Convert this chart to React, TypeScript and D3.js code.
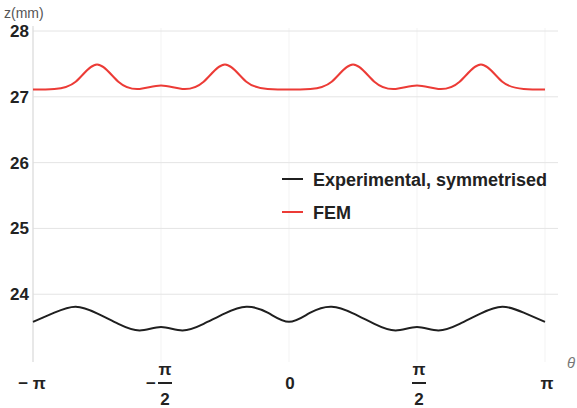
import React from "react";
import * as d3 from "d3";

// theta sampled in steps of pi/12, from -pi to pi
const thetaSteps = [-12, -11, -10, -9, -8, -7, -6, -5, -4, -3, -2, -1, 0, 1, 2, 3, 4, 5, 6, 7, 8, 9, 10, 11, 12];

// FEM (red) z in mm
const femZ = [
  27.11, 27.12, 27.23, 27.49, 27.23, 27.12, 27.17, 27.12, 27.23, 27.49, 27.23, 27.12,
  27.11,
  27.12, 27.23, 27.49, 27.23, 27.12, 27.17, 27.12, 27.23, 27.49, 27.23, 27.12, 27.11,
];

// Experimental, symmetrised (black) z in mm
const expZ = [
  23.58, 23.72, 23.81, 23.71, 23.55, 23.45, 23.5, 23.45, 23.55, 23.71, 23.81, 23.72,
  23.58,
  23.72, 23.81, 23.71, 23.55, 23.45, 23.5, 23.45, 23.55, 23.71, 23.81, 23.72, 23.58,
];

const yTicks = [24, 25, 26, 27, 28];
const xTicks = [-2, -1, 0, 1, 2]; // multiples of pi/2

const legendItems = [
  { label: "Experimental, symmetrised", color: "#1f1f1f" },
  { label: "FEM", color: "#ec3b36" },
];

const W = 577;
const H = 408;
const FONT = "'Liberation Sans', Arial, sans-serif";

const App: React.FC = () => {
  const x = d3.scaleLinear().domain([-Math.PI, Math.PI]).range([33, 545]);
  const y = d3.scaleLinear().domain([22.97, 28]).range([362, 31]);

  const line = d3
    .line<number>()
    .x((_, i) => x((thetaSteps[i] * Math.PI) / 12))
    .y((d) => y(d))
    .curve(d3.curveNatural);

  const tickLabel = (k: number, cx: number) => {
    const base = 389;
    if (k === 0) {
      return (
        <text x={cx + 1} y={base} textAnchor="middle">0</text>
      );
    }
    if (Math.abs(k) === 2) {
      return (
        <text x={k < 0 ? cx - 1 : cx + 2} y={base} textAnchor="middle">
          {k < 0 ? "\u2212\u00a0\u03c0" : "\u03c0"}
        </text>
      );
    }
    // fraction pi/2
    const fx = k < 0 ? cx + 4 : cx + 2;
    return (
      <g>
        {k < 0 && (
          <text x={cx - 10} y={base} textAnchor="middle">{"\u2212"}</text>
        )}
        <text x={fx} y={375} textAnchor="middle">{"\u03c0"}</text>
        <line x1={fx - 7} x2={fx + 7} y1={383} y2={383} stroke="#222" strokeWidth={2} />
        <text x={fx} y={405} textAnchor="middle">2</text>
      </g>
    );
  };

  return (
    <svg
      width={W}
      height={H}
      style={{ position: "absolute", left: 0, top: 0, background: "#fff" }}
      fontFamily={FONT}
    >
      {/* vertical grid */}
      {xTicks.map((k) => (
        <line key={"vg" + k} x1={x((k * Math.PI) / 2)} x2={x((k * Math.PI) / 2)} y1={28} y2={362}
          stroke="#f3f3f3" strokeWidth={1} />
      ))}
      {/* horizontal grid */}
      {yTicks.map((t) => (
        <line key={"hg" + t} x1={33} x2={558} y1={y(t)} y2={y(t)} stroke="#e4e4e4" strokeWidth={1} />
      ))}
      {/* y axis */}
      <line x1={33} x2={33} y1={26} y2={362} stroke="#dcdcdc" strokeWidth={1.2} />
      {yTicks.map((t) => (
        <text key={"yt" + t} x={29} y={y(t) + 6} textAnchor="end" fontWeight="bold" fontSize={17} fill="#222">
          {t}
        </text>
      ))}
      <text x={4} y={18} fontSize={14} fill="#555">z(mm)</text>

      {/* x tick labels */}
      <g fill="#222" fontWeight="bold" fontSize={17}>
        {xTicks.map((k) => (
          <g key={"xt" + k}>{tickLabel(k, x((k * Math.PI) / 2))}</g>
        ))}
      </g>
      <text x={567} y={368} fontSize={15} fontStyle="italic" fill="#777">{"\u03b8"}</text>

      {/* curves */}
      <path d={line(femZ) || ""} fill="none" stroke="#ec3b36" strokeWidth={2} />
      <path d={line(expZ) || ""} fill="none" stroke="#1f1f1f" strokeWidth={2} />

      {/* legend */}
      {legendItems.map((it, i) => (
        <g key={it.label} transform={`translate(282,${179 + i * 33})`}>
          <line x1={0} x2={21} y1={0} y2={0} stroke={it.color} strokeWidth={2} />
          <text x={31} y={6.5} fontWeight="bold" fontSize={18} fill="#222">{it.label}</text>
        </g>
      ))}
    </svg>
  );
};

export default App;
